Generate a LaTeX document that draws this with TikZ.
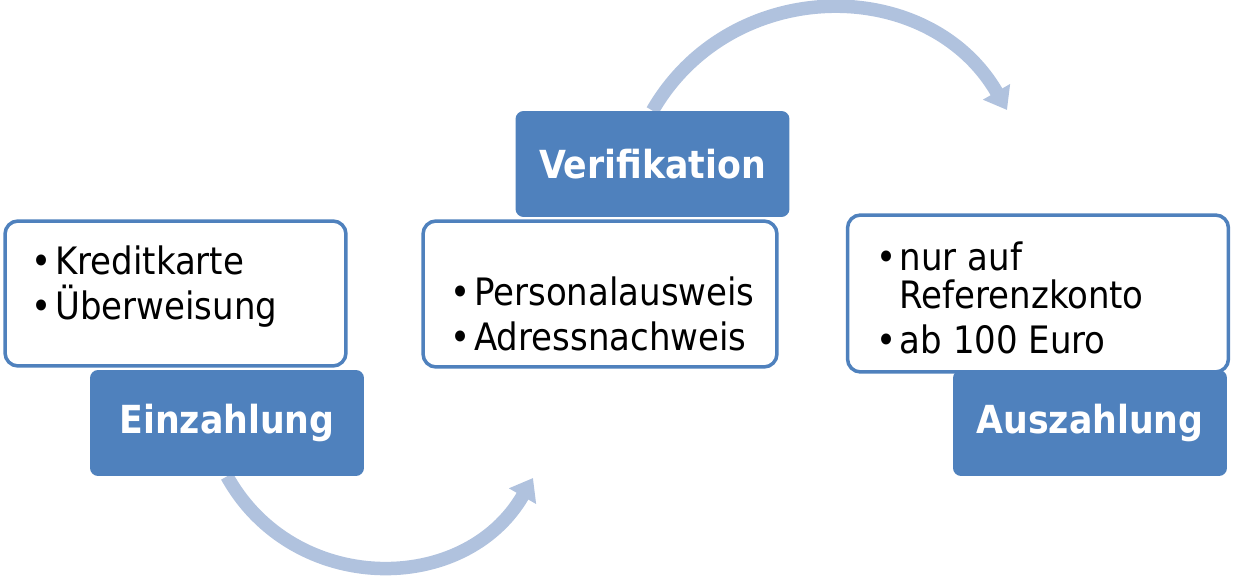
\documentclass[tikz,border=0pt]{standalone}
\usepackage{fontspec}
\setmainfont{DejaVu Sans Condensed}
\usetikzlibrary{arrows.meta,positioning,backgrounds}
\definecolor{stageblue}{RGB}{79,129,189}
\definecolor{flowblue}{RGB}{176,194,222}
\newcommand{\punkt}{\makebox[13.5pt][l]{\textbullet}}

\begin{document}
\begin{tikzpicture}[
  x=0.02cm, y=0.02cm,
  panel/.style={draw=stageblue, line width=2pt, fill=white, rounded corners=0.26cm, inner sep=0pt},
  stage/.style={fill=stageblue, rounded corners=0.16cm, minimum width=5.48cm, minimum height=2.12cm,
    inner sep=0pt, text=white, font=\fontsize{22}{25}\selectfont\bfseries},
  items/.style={anchor=base west, align=left, inner sep=0pt, font=\fontsize{21.5}{21.5}\selectfont},
  flow/.style={draw=flowblue, line width=0.27cm, -{Triangle[length=0.42cm, width=0.6cm]}}
]
  \useasboundingbox (0,0) rectangle (1234,585);

  % Weisse Kaesten mit den Stichpunkten
  \node[panel, minimum width=6.82cm, minimum height=2.9cm] (einzbox) at (175.5,291.5) {};
  \node[panel, minimum width=7.08cm, minimum height=2.92cm] (verifbox) at (600,291) {};
  \node[panel, minimum width=7.62cm, minimum height=3.14cm] (auszbox) at (1038,291.5) {};

  % (Anker = Grundlinie der letzten Zeile)
  \node[items] (einzliste) at ([shift={(28,-100)}]einzbox.north west)
    {\punkt Kreditkarte\\[4pt]\punkt Überweisung};
  \node[items] (verifliste) at ([shift={(29,-131)}]verifbox.north west)
    {\punkt Personalausweis\\[4pt]\punkt Adressnachweis};
  \node[items] (auszliste) at ([shift={(30,-140)}]auszbox.north west)
    {\punkt nur auf\\\hspace*{13.5pt}Referenzkonto\\[4pt]\punkt ab 100 Euro};

  % Blaue Stufen
  \node[stage] (einz) at (227,162) {Einzahlung};
  \node[stage] (verif) at (652.5,421) {Verifikation};
  \node[stage] (ausz) at (1090,162) {Auszahlung};

  % Boegen zwischen den Stufen
  \coordinate (einzziel) at (533,107);
  \coordinate (verifziel) at (1007,475);
  \begin{scope}[on background layer]
    \draw[flow] (einz.south) to[out=299, in=240, looseness=1.14] (einzziel);
    \draw[flow] (verif.north) to[out=60, in=120, looseness=1.13] (verifziel);
  \end{scope}
\end{tikzpicture}
\end{document}
